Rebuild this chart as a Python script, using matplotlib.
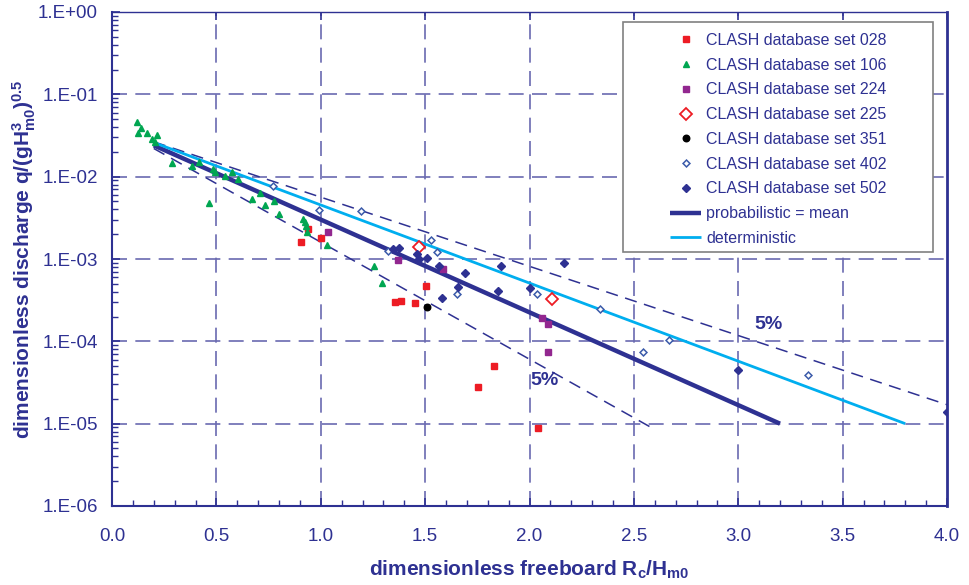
import math
import matplotlib
matplotlib.use("Agg")
import matplotlib.pyplot as plt
from matplotlib.ticker import FixedLocator, MultipleLocator, FuncFormatter, LogLocator, NullFormatter
from matplotlib.patches import Rectangle

plt.rcParams['font.family'] = ['Liberation Sans', 'DejaVu Sans']
plt.rcParams['mathtext.fontset'] = 'custom'
plt.rcParams['mathtext.rm'] = 'Liberation Sans:bold'
plt.rcParams['mathtext.it'] = 'Liberation Sans:bold'
plt.rcParams['mathtext.bf'] = 'Liberation Sans:bold'

# ---------------- data ----------------
set028_x = [0.905, 0.94, 1.003, 1.357, 1.384, 1.45, 1.503, 1.752, 1.831, 2.039]
set028_y = [1.6e-3, 2.3e-3, 1.8e-3, 3.0e-4, 3.1e-4, 2.9e-4, 4.7e-4, 2.8e-5, 5.0e-5, 8.9e-6]

set106_x = [0.121, 0.137, 0.126, 0.166, 0.214, 0.192, 0.208, 0.289, 0.418, 0.385,
            0.482, 0.493, 0.54, 0.573, 0.605, 0.466, 0.709, 0.672, 0.734, 0.777,
            0.80, 0.917, 0.925, 0.928, 0.933, 1.031, 1.255, 1.293]
set106_y = [0.046, 0.039, 0.034, 0.034, 0.032, 0.029, 0.0266, 0.0145, 0.0152, 0.0135,
            0.0123, 0.0113, 0.0102, 0.0113, 0.0093, 0.0048, 0.0063, 0.0054, 0.0045, 0.0051,
            0.0035, 0.0031, 0.0028, 0.0025, 0.0021, 0.00149, 0.00083, 0.00051]

set224_x = [1.036, 1.369, 1.587, 2.058, 2.09, 2.09]
set224_y = [2.1e-3, 9.6e-4, 7.6e-4, 1.9e-4, 1.63e-4, 7.4e-5]

set225_x = [1.472, 2.108]
set225_y = [1.39e-3, 3.3e-4]

set351_x = [1.51]
set351_y = [2.6e-4]

set402_x = [0.773, 0.993, 1.191, 1.322, 1.528, 1.558, 1.651, 2.036, 2.336, 2.545, 2.668, 3.334]
set402_y = [7.7e-3, 3.9e-3, 3.8e-3, 1.25e-3, 1.7e-3, 1.22e-3, 3.8e-4, 3.8e-4, 2.46e-4, 7.4e-5, 1.04e-4, 3.9e-5]

set502_x = [1.348, 1.375, 1.461, 1.472, 1.507, 1.565, 1.581, 1.656, 1.69, 1.848, 1.862, 2.0, 2.165, 3.0, 3.998]
set502_y = [1.31e-3, 1.37e-3, 1.15e-3, 9.9e-4, 1.02e-3, 8.2e-4, 3.4e-4, 4.6e-4, 6.7e-4, 4.1e-4, 8.2e-4, 4.4e-4, 8.9e-4, 4.5e-5, 1.4e-5]

mean_x = [0.2, 3.2]
mean_y = [2.4e-2, 1.0e-5]
det_x = [0.2, 3.8]
det_y = [2.6e-2, 1.0e-5]
upper5_x = [0.2, 4.0]
upper5_y = [2.65e-2, 1.7e-5]
lower5_x = [0.2, 2.6]
lower5_y = [2.2e-2, 8.5e-6]

x_ticks = [0.0, 0.5, 1.0, 1.5, 2.0, 2.5, 3.0, 3.5, 4.0]
y_ticks = [1e-6, 1e-5, 1e-4, 1e-3, 1e-2, 1e-1, 1e0]

labels = ["CLASH database set 028", "CLASH database set 106", "CLASH database set 224",
          "CLASH database set 225", "CLASH database set 351", "CLASH database set 402",
          "CLASH database set 502", "probabilistic = mean", "deterministic"]

# ---------------- style ----------------
NAVY = '#2E3192'
GRID = '#6A6AB0'
RED = '#ED1C24'
GREEN = '#00A651'
PURPLE = '#92278F'
CYAN = '#00AEEF'
BLUE = '#2E3192'
OPENBLUE = '#3B5BAA'

fig = plt.figure(figsize=(9.69, 5.85), dpi=100)
ax = fig.add_axes([112/969, 1-506/585, (947-112)/969, (506-12)/585])
ax.set_yscale('log')
ax.set_xlim(0, 4)
ax.set_ylim(1e-6, 1e0)

# grid
for xv in x_ticks[1:-1]:
    ax.axvline(xv, color=GRID, lw=1.2, dashes=(9, 5), zorder=1)
for yv in y_ticks[1:-1]:
    ax.axhline(yv, color=GRID, lw=1.2, dashes=(9, 5), zorder=1)

# lines
ax.plot(upper5_x, upper5_y, color=NAVY, lw=1.1, dashes=(8, 5), zorder=2)
ax.plot(lower5_x, lower5_y, color=NAVY, lw=1.1, dashes=(8, 5), zorder=2)
h_mean, = ax.plot(mean_x, mean_y, color=NAVY, lw=3.2, zorder=2, solid_capstyle='butt')
h_det, = ax.plot(det_x, det_y, color=CYAN, lw=2.0, zorder=2, solid_capstyle='butt')

# points
h028, = ax.plot(set028_x, set028_y, ls='none', marker='s', ms=4.7, color=RED, mec=RED, zorder=4)
h106, = ax.plot(set106_x, set106_y, ls='none', marker='^', ms=5.0, color=GREEN, mec=GREEN, zorder=4)
h224, = ax.plot(set224_x, set224_y, ls='none', marker='s', ms=4.7, color=PURPLE, mec=PURPLE, zorder=4)
h225, = ax.plot(set225_x, set225_y, ls='none', marker='D', ms=6, mfc='white', mec=RED, mew=1.3, zorder=4)
h351, = ax.plot(set351_x, set351_y, ls='none', marker='o', ms=4.7, color='black', zorder=4)
h402, = ax.plot(set402_x, set402_y, ls='none', marker='D', ms=3.5, mfc='white', mec=OPENBLUE, mew=1.1, zorder=4)
h502, = ax.plot(set502_x, set502_y, ls='none', marker='D', ms=3.8, color=BLUE, mec=BLUE, zorder=4)

# 5% labels
ax.text(3.147, 10**-3.80, '5%', color=NAVY, fontsize=14, fontweight='bold', ha='center', va='center', zorder=5)
ax.text(2.07, 10**-4.47, '5%', color=NAVY, fontsize=14, fontweight='bold', ha='center', va='center', zorder=5)

# axes styling
for s in ['left', 'bottom', 'right', 'top']:
    ax.spines[s].set_color(NAVY)
    ax.spines[s].set_linewidth(1.5)
ax.spines['right'].set_linewidth(2.0)
ax.spines['top'].set_linewidth(1.0)

ax.xaxis.set_major_locator(FixedLocator(x_ticks))
ax.xaxis.set_minor_locator(MultipleLocator(0.1))
ax.xaxis.set_major_formatter(FuncFormatter(lambda v, p: f"{v:.1f}"))
ax.yaxis.set_major_locator(FixedLocator(y_ticks))
ax.yaxis.set_minor_locator(LogLocator(base=10, subs=range(2, 10), numticks=20))
ax.yaxis.set_minor_formatter(NullFormatter())


def yfmt(v, p):
    e = int(round(math.log10(v)))
    return f"1.E{e:+03d}"


ax.yaxis.set_major_formatter(FuncFormatter(yfmt))

ax.tick_params(axis='both', which='both', direction='in', colors=NAVY, labelcolor=NAVY, labelsize=13.5)
ax.tick_params(axis='both', which='major', length=6, width=1.2)
ax.tick_params(axis='both', which='minor', length=4, width=1.0)
ax.tick_params(axis='x', which='major', top=True)
ax.tick_params(axis='x', pad=16)
ax.tick_params(axis='y', pad=10)

ax.set_xlabel(r'dimensionless freeboard R$_{\mathrm{c}}$/H$_{\mathrm{m0}}$', color=NAVY,
              fontsize=15, fontweight='bold', labelpad=10)
ax.set_ylabel(r'dimensionless discharge q/(gH$_{\mathrm{m0}}^{\mathrm{3}}$)$^{\mathrm{0.5}}$', color=NAVY,
              fontsize=15, fontweight='bold', labelpad=0)


# legend frame
def px2ax(px, py):
    return ((px - 112) / 835, (506 - py) / 494)


x0, y1 = px2ax(623, 22)
x1, y0 = px2ax(933, 252)
ax.add_patch(Rectangle((x0, y0), x1 - x0, y1 - y0, transform=ax.transAxes,
                       facecolor='white', edgecolor='#808080', lw=1.2, zorder=6))

lx, ly = px2ax(670, 33)
leg = ax.legend([h028, h106, h224, h225, h351, h402, h502, h_mean, h_det],
                labels, loc='upper left', bbox_to_anchor=(lx, ly), bbox_transform=ax.transAxes,
                frameon=False, borderpad=0, borderaxespad=0, fontsize=11.5,
                handlelength=1.95, handletextpad=0.3, labelspacing=0.61, numpoints=1)
leg.set_zorder(7)
for t in leg.get_texts():
    t.set_color(NAVY)

fig.savefig('out.png', dpi=100)
